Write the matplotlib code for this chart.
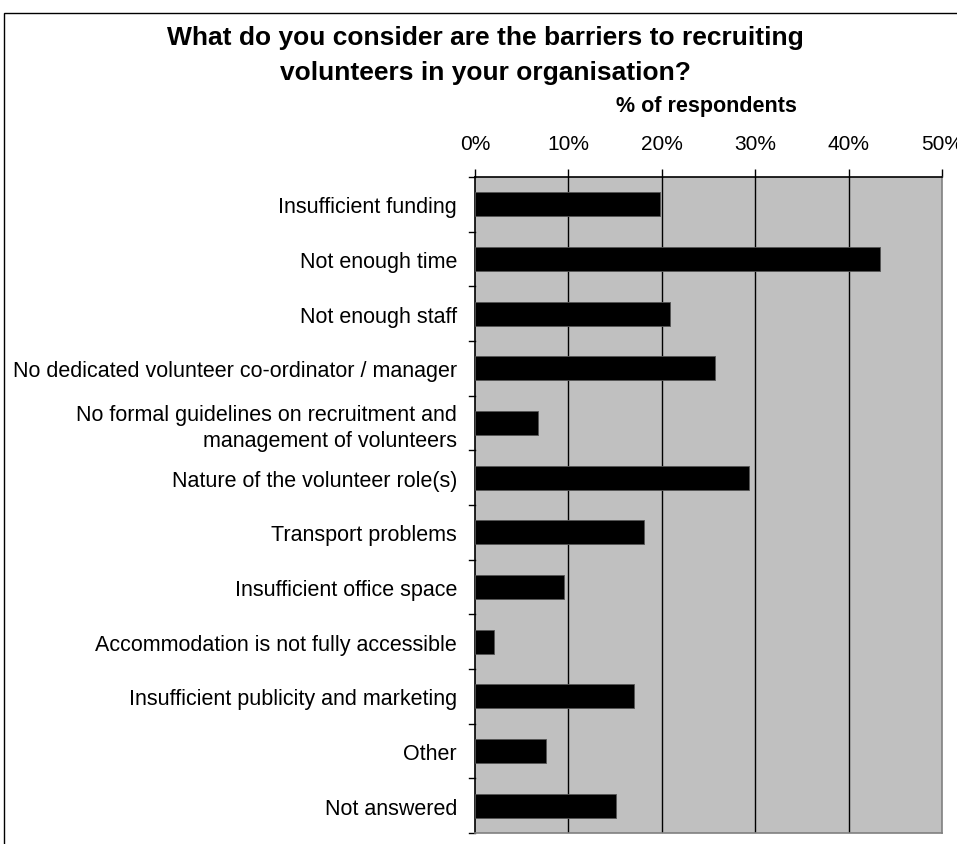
import matplotlib
matplotlib.use("Agg")
import matplotlib.pyplot as plt
from matplotlib.patches import Rectangle

plt.rcParams['font.family'] = ['Liberation Sans', 'DejaVu Sans']

categories = [
    "Insufficient funding",
    "Not enough time",
    "Not enough staff",
    "No dedicated volunteer co-ordinator / manager",
    "No formal guidelines on recruitment and\nmanagement of volunteers",
    "Nature of the volunteer role(s)",
    "Transport problems",
    "Insufficient office space",
    "Accommodation is not fully accessible",
    "Insufficient publicity and marketing",
    "Other",
    "Not answered",
]
values = [19.8, 43.4, 20.9, 25.7, 6.75, 29.3, 18.1, 9.5, 2.0, 17.0, 7.6, 15.1]
xticks = [0, 10, 20, 30, 40, 50]
xtick_labels = ["0%", "10%", "20%", "30%", "40%", "50%"]

W, H = 957, 845
fig = plt.figure(figsize=(W / 100, H / 100), dpi=100)

# chart border (cropped on right/bottom)
fig.patches.append(Rectangle((4 / W, -0.1), 1.2, 1 - 14 / H + 0.1, transform=fig.transFigure,
                             fill=False, edgecolor='black', linewidth=1.0))

left, right, top, bottom = 475, 942, 178, 834
ax = fig.add_axes([left / W, 1 - bottom / H, (right - left) / W, (bottom - top) / H])
ax.set_facecolor('#c0c0c0')

n = len(categories)
ypos = list(range(n))
ax.barh(ypos, values, height=0.44, color='black', edgecolor='#555555', linewidth=0.6, zorder=3)
ax.set_xlim(0, 50)
ax.set_ylim(n - 0.5, -0.5)

for x in xticks[1:-1]:
    ax.axvline(x, color='black', linewidth=1.0, zorder=2)

ax.xaxis.tick_top()
ax.set_xticks(xticks)
ax.set_xticklabels(xtick_labels, fontsize=15)
ax.tick_params(axis='x', direction='out', length=6, width=1, pad=11, color='black')

ax.set_yticks(ypos)
ax.set_yticklabels(categories, fontsize=15.5, linespacing=1.3)
ax.tick_params(axis='y', length=0, pad=13)
# boundary ticks on y axis
for b in range(n + 1):
    ax.plot([-0.012, 0], [b - 0.5, b - 0.5], transform=ax.get_yaxis_transform(),
            color='black', linewidth=1.0, clip_on=False)

ax.spines['top'].set_color('black')
ax.spines['left'].set_color('black')
ax.spines['right'].set_color('#808080')
ax.spines['bottom'].set_color('#808080')
for s in ax.spines.values():
    s.set_linewidth(1.2)

fig.text(485 / W, 1 - 45 / H, "What do you consider are the barriers to recruiting",
         ha='center', va='baseline', fontsize=19, fontweight='bold')
fig.text(485 / W, 1 - 80 / H, "volunteers in your organisation?",
         ha='center', va='baseline', fontsize=19, fontweight='bold')
fig.text(706 / W, 1 - 112 / H, "% of respondents", ha='center', va='baseline', fontsize=15.5, fontweight='bold')

fig.savefig("out.png", dpi=100)
